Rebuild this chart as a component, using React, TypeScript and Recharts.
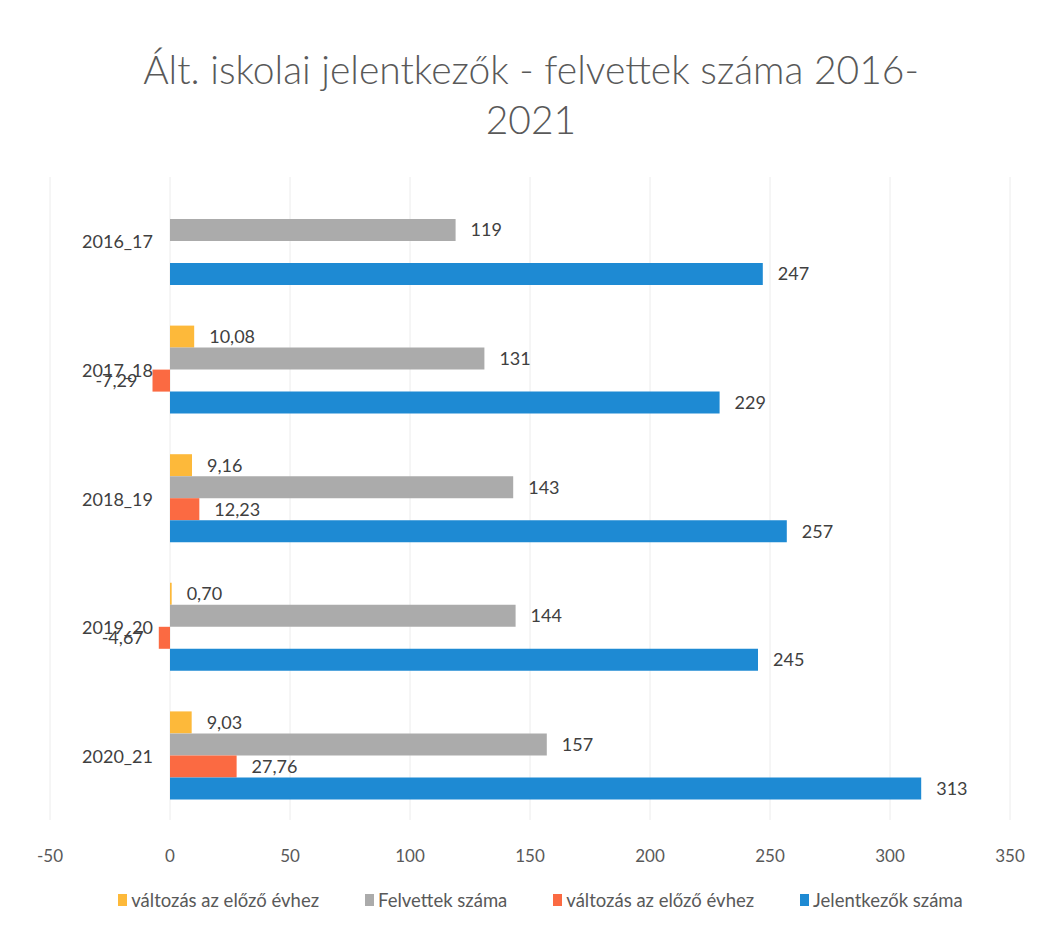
import { BarChart, Bar, XAxis, YAxis, CartesianGrid, Legend, LabelList } from 'recharts';

// kategóriák és sorozatok
const categories = ['2016_17', '2017_18', '2018_19', '2019_20', '2020_21'];
const felvettekValtozas = [null, 10.08, 9.16, 0.7, 9.03];
const felvettek = [119, 131, 143, 144, 157];
const jelentkezokValtozas = [null, -7.29, 12.23, -4.67, 27.76];
const jelentkezok = [247, 229, 257, 245, 313];
const xTicks = [-50, 0, 50, 100, 150, 200, 250, 300, 350];

const CHART_W = 1042;
const CHART_H = 762;
const MARGIN = { top: 7, right: 32, left: 49, bottom: 20 };
const Y_W = 1;
const PLOT_LEFT = MARGIN.left + Y_W;
const PLOT_W = CHART_W - PLOT_LEFT - MARGIN.right;
const ZERO_X = PLOT_LEFT + (PLOT_W * (0 - xTicks[0])) / (xTicks[xTicks.length - 1] - xTicks[0]);

const FONT = 'Lato, "Noto Sans", sans-serif';

const data = categories.map((name, i) => ({
  name,
  fv: felvettekValtozas[i],
  f: felvettek[i],
  jv: jelentkezokValtozas[i],
  j: jelentkezok[i],
}));

const series = [
  { key: 'fv', name: 'változás az előző évhez', color: '#FDB93A', dec: true },
  { key: 'f', name: 'Felvettek száma', color: '#ABABAB', dec: false },
  { key: 'jv', name: 'változás az előző évhez', color: '#FB6A42', dec: true },
  { key: 'j', name: 'Jelentkezők száma', color: '#1E8AD3', dec: false },
];

const fmt = (dec: boolean) => (v: any) => {
  if (v === null || v === undefined) return '';
  return dec ? Number(v).toFixed(2).replace('.', ',') : String(v);
};

const renderCategoryTick = (props: any) => {
  const { y, payload } = props;
  return (
    <text x={ZERO_X - 17} y={y} textAnchor="end" dominantBaseline="central" fill="#404040" fontSize={18} fontFamily={FONT}>
      {payload.value}
    </text>
  );
};

const LegendContent = () => (
  <div style={{ display: 'flex', justifyContent: 'center', gap: 46, height: 24, alignItems: 'center', paddingLeft: 22, fontFamily: FONT, fontSize: 18.5, color: '#595959' }}>
    {series.map((s) => (
      <div key={s.key} style={{ display: 'flex', alignItems: 'center', gap: 4 }}>
        <span style={{ width: 9, height: 12, background: s.color, display: 'inline-block' }} />
        <span>{s.name}</span>
      </div>
    ))}
  </div>
);

export default function App() {
  return (
    <div style={{ position: 'absolute', left: 0, top: 0, width: CHART_W, height: 932, background: '#fff', fontFamily: FONT }}>
      <div style={{ height: 170, textAlign: 'center', color: '#595959', fontSize: 39, fontWeight: 300, lineHeight: '50px', paddingTop: 44, boxSizing: 'border-box', paddingLeft: 20 }}>
        Ált. iskolai jelentkezők - felvettek száma 2016-
        <br />
        2021
      </div>
      <BarChart width={CHART_W} height={CHART_H} data={data} layout="vertical" margin={MARGIN} barGap={0} barSize={22}>
        <CartesianGrid horizontal={false} stroke="#ECECEC" />
        <XAxis
          type="number"
          domain={[-50, 350]}
          ticks={xTicks}
          axisLine={false}
          tickLine={false}
          tickSize={0}
          tickMargin={30}
          height={68}
          tick={{ fill: '#595959', fontSize: 17, fontFamily: FONT }}
        />
        <YAxis type="category" dataKey="name" width={Y_W} interval={0} axisLine={false} tickLine={false} tick={renderCategoryTick} />
        <Legend verticalAlign="bottom" content={<LegendContent />} />
        {series.map((s) => (
          <Bar key={s.key} dataKey={s.key} name={s.name} fill={s.color} isAnimationActive={false}>
            <LabelList dataKey={s.key} position="right" offset={15} formatter={fmt(s.dec)} fill="#404040" fontSize={18} fontFamily={FONT} />
          </Bar>
        ))}
      </BarChart>
    </div>
  );
}
